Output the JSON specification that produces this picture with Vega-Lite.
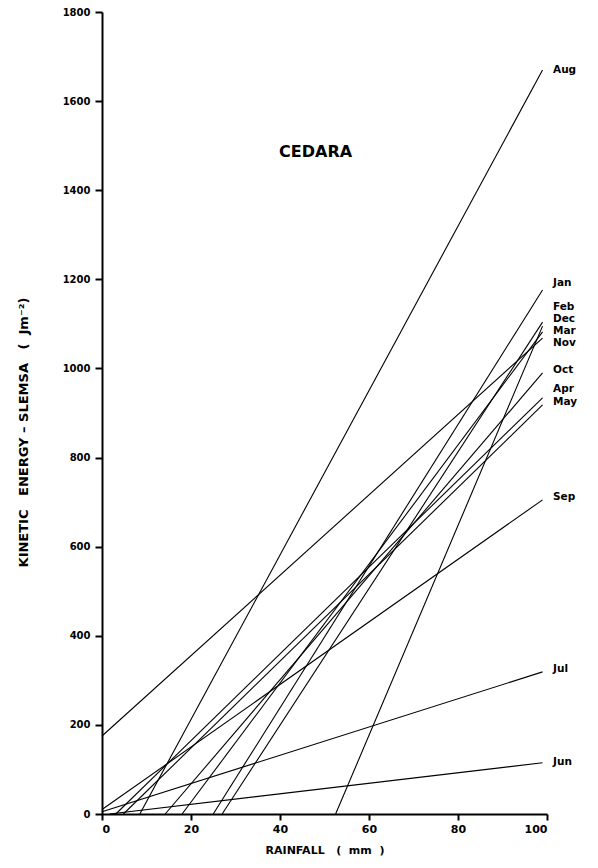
{
  "$schema": "https://vega.github.io/schema/vega-lite/v6.json",
  "width": 445,
  "height": 802,
  "autosize": {"type": "none"},
  "padding": {"left": 102, "top": 12, "right": 51, "bottom": 54},
  "background": "white",
  "config": {
    "view": {"stroke": null},
    "axis": {
      "grid": false,
      "domainColor": "black",
      "domainWidth": 2,
      "tickColor": "black",
      "tickWidth": 2,
      "labelFont": "DejaVu Sans",
      "labelFontWeight": "bold",
      "labelColor": "black",
      "titleFont": "DejaVu Sans",
      "titleFontWeight": "bold",
      "titleColor": "black"
    }
  },
  "datasets": {
    "lines": [
      {"month": "Aug", "rain": 8.5, "ke": 0}, {"month": "Aug", "rain": 99, "ke": 1670},
      {"month": "Jan", "rain": 25, "ke": 0}, {"month": "Jan", "rain": 99, "ke": 1176},
      {"month": "Feb", "rain": 27, "ke": 0}, {"month": "Feb", "rain": 99, "ke": 1104},
      {"month": "Dec", "rain": 52.5, "ke": 0}, {"month": "Dec", "rain": 99, "ke": 1095},
      {"month": "Mar", "rain": 18, "ke": 0}, {"month": "Mar", "rain": 99, "ke": 1082},
      {"month": "Nov", "rain": 0, "ke": 175}, {"month": "Nov", "rain": 99, "ke": 1068},
      {"month": "Oct", "rain": 14.2, "ke": 0}, {"month": "Oct", "rain": 99, "ke": 990},
      {"month": "Apr", "rain": 3.1, "ke": 0}, {"month": "Apr", "rain": 99, "ke": 934},
      {"month": "May", "rain": 4.8, "ke": 0}, {"month": "May", "rain": 99, "ke": 918},
      {"month": "Sep", "rain": 0, "ke": 10}, {"month": "Sep", "rain": 99, "ke": 705},
      {"month": "Jul", "rain": 0, "ke": 5}, {"month": "Jul", "rain": 99, "ke": 319},
      {"month": "Jun", "rain": 1.7, "ke": 0}, {"month": "Jun", "rain": 99, "ke": 115}
    ],
    "labels": [
      {"month": "Aug", "rain": 100, "ke": 1670},
      {"month": "Jan", "rain": 100, "ke": 1192},
      {"month": "Feb", "rain": 100, "ke": 1137},
      {"month": "Dec", "rain": 100, "ke": 1110},
      {"month": "Mar", "rain": 100, "ke": 1084},
      {"month": "Nov", "rain": 100, "ke": 1058},
      {"month": "Oct", "rain": 100, "ke": 996},
      {"month": "Apr", "rain": 100, "ke": 954},
      {"month": "May", "rain": 100, "ke": 924},
      {"month": "Sep", "rain": 100, "ke": 711},
      {"month": "Jul", "rain": 100, "ke": 325},
      {"month": "Jun", "rain": 100, "ke": 117}
    ],
    "station": [
      {"name": "CEDARA", "rain": 48, "ke": 1486}
    ]
  },
  "layer": [
    {
      "data": {"name": "lines"},
      "mark": {"type": "line", "color": "black", "strokeWidth": 1.1, "clip": false},
      "encoding": {
        "x": {
          "field": "rain", "type": "quantitative",
          "scale": {"domain": [0, 100], "nice": false, "zero": true},
          "axis": {
            "values": [0, 20, 40, 60, 80, 100],
            "format": "d",
            "tickSize": 6,
            "labelPadding": 3,
            "labelFontSize": 11,
            "title": "RAINFALL\u00a0\u00a0\u00a0(\u00a0\u00a0mm\u00a0\u00a0)",
            "titleFontSize": 11,
            "titlePadding": 10
          }
        },
        "y": {
          "field": "ke", "type": "quantitative",
          "scale": {"domain": [0, 1800], "nice": false},
          "axis": {
            "values": [0, 200, 400, 600, 800, 1000, 1200, 1400, 1600, 1800],
            "format": "d",
            "tickSize": 7,
            "labelPadding": 5,
            "labelFontSize": 10,
            "title": "KINETIC\u00a0\u00a0\u00a0ENERGY\u00a0–\u00a0SLEMSA\u00a0\u00a0\u00a0(\u00a0\u00a0Jm⁻²)",
            "titleFontSize": 13,
            "titleX": -72,
            "titleY": 420,
            "titleAnchor": "middle"
          }
        },
        "detail": {"field": "month"}
      }
    },
    {
      "data": {"name": "labels"},
      "mark": {"type": "text", "align": "left", "baseline": "middle", "dx": 6, "font": "DejaVu Sans", "fontWeight": "bold", "fontSize": 10.5, "color": "black", "clip": false},
      "encoding": {
        "x": {"field": "rain", "type": "quantitative"},
        "y": {"field": "ke", "type": "quantitative"},
        "text": {"field": "month"}
      }
    },
    {
      "data": {"name": "station"},
      "mark": {"type": "text", "align": "center", "baseline": "middle", "font": "DejaVu Sans", "fontWeight": "bold", "fontSize": 16, "color": "black"},
      "encoding": {
        "x": {"field": "rain", "type": "quantitative"},
        "y": {"field": "ke", "type": "quantitative"},
        "text": {"field": "name"}
      }
    }
  ]
}
